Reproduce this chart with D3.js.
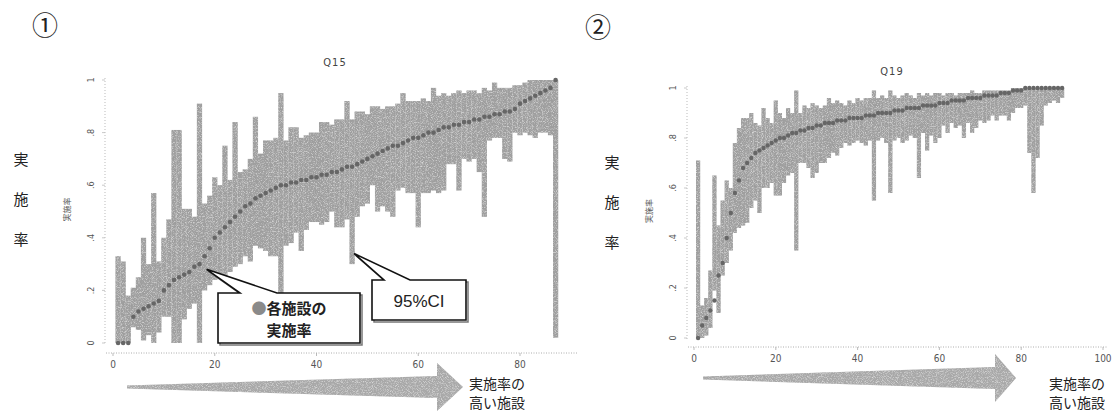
<!DOCTYPE html>
<html><head><meta charset="utf-8">
<script src="https://cdn.jsdelivr.net/npm/d3@7/dist/d3.min.js"></script>
<style>
html,body{margin:0;padding:0;background:#fff;}
svg{display:block;}
</style></head>
<body>
<svg id="chart" width="1114" height="413"></svg>
<script>
// ---------- DATA ----------
const panelMarks = ["①", "②"];
const panelTitles = ["Q15", "Q19"];
const yTicks = [0, 0.2, 0.4, 0.6, 0.8, 1];
const yTickLabels = ["0", ".2", ".4", ".6", ".8", "1"];
const xTicks15 = [0, 20, 40, 60, 80];
const xTicks19 = [0, 20, 40, 60, 80, 100];
const yTitleSmall = "実施率";
const yTitleBig = ["実", "施", "率"];
const xNote = ["実施率の", "高い施設"];
const callout1 = ["●各施設の", "実施率"];
const callout2 = "95%CI";

// Q15: 87 facilities sorted by rate
const q15Rate = [0,0,0,0.1,0.12,0.13,0.14,0.15,0.16,0.2,0.22,0.24,0.25,0.26,0.27,0.29,0.3,0.33,0.36,0.4,
0.42,0.44,0.46,0.48,0.5,0.52,0.53,0.55,0.56,0.57,0.58,0.59,0.6,0.6,0.61,0.61,0.62,0.62,0.63,0.63,
0.64,0.64,0.65,0.65,0.66,0.67,0.67,0.68,0.69,0.7,0.71,0.72,0.73,0.74,0.75,0.75,0.76,0.77,0.78,0.78,
0.79,0.8,0.8,0.81,0.82,0.82,0.83,0.83,0.84,0.84,0.85,0.85,0.86,0.86,0.87,0.87,0.88,0.88,0.89,0.91,
0.92,0.93,0.94,0.95,0.96,0.97,1.0];
const q15Lower = [0,0,0,0.06,0.05,0.01,0.03,0,0.04,0.1,0.1,0,0,0.09,0.13,0.15,0,0.2,0.22,0.24,
0.25,0.24,0.27,0.29,0.3,0.33,0.31,0.37,0.36,0.35,0.33,0.33,0.15,0.37,0.38,0.42,0.35,0.43,0.46,0.46,
0.45,0.46,0.5,0.44,0.44,0.47,0.3,0.48,0.52,0.53,0.6,0.5,0.52,0.5,0.48,0.58,0.59,0.57,0.57,0.44,
0.57,0.57,0.58,0.57,0.58,0.68,0.68,0.58,0.7,0.69,0.7,0.65,0.48,0.77,0.78,0.78,0.7,0.69,0.8,0.79,
0.8,0.79,0.78,0.8,0.8,0.79,0.02];
const q15Upper = [0.33,0.31,0.18,0.21,0.25,0.4,0.3,0.57,0.31,0.4,0.47,0.81,0.81,0.51,0.51,0.48,0.91,0.53,0.56,0.63,
0.6,0.75,0.62,0.84,0.65,0.66,0.7,0.86,0.72,0.77,0.77,0.78,0.95,0.77,0.82,0.82,0.78,0.79,0.8,0.8,
0.84,0.84,0.83,0.85,0.85,0.92,0.85,0.88,0.88,0.87,0.9,0.9,0.89,0.9,0.9,0.91,0.95,0.92,0.92,0.92,
0.93,0.92,0.97,0.94,0.95,0.94,0.95,0.96,0.95,0.96,0.96,0.95,0.97,0.96,0.99,0.97,0.97,0.97,0.98,0.98,
0.99,1.0,1.0,1.0,1.0,1.0,1.0];

// Q19: 90 facilities sorted by rate
const q19Rate = [0,0.05,0.08,0.11,0.15,0.25,0.3,0.4,0.5,0.58,0.63,0.68,0.7,0.72,0.74,0.75,0.76,0.77,0.78,0.79,
0.8,0.8,0.81,0.82,0.82,0.83,0.83,0.84,0.84,0.85,0.85,0.86,0.86,0.86,0.87,0.87,0.87,0.88,0.88,0.88,
0.88,0.89,0.89,0.89,0.9,0.9,0.9,0.9,0.91,0.91,0.91,0.92,0.92,0.92,0.92,0.93,0.93,0.93,0.93,0.94,
0.94,0.94,0.95,0.95,0.95,0.95,0.96,0.96,0.96,0.96,0.97,0.97,0.97,0.97,0.98,0.98,0.98,0.99,0.99,0.99,
1,1,1,1,1,1,1,1,1,1];
const q19Lower = [0,0,0.01,0.04,0.19,0.1,0.25,0.3,0.35,0.42,0.44,0.45,0.46,0.52,0.55,0.5,0.6,0.6,0.62,0.57,
0.57,0.62,0.65,0.66,0.35,0.7,0.7,0.68,0.64,0.66,0.7,0.7,0.72,0.74,0.73,0.76,0.78,0.77,0.78,0.79,
0.78,0.77,0.79,0.55,0.79,0.8,0.78,0.58,0.79,0.8,0.78,0.79,0.81,0.8,0.64,0.82,0.75,0.81,0.78,0.8,
0.85,0.82,0.86,0.84,0.85,0.8,0.86,0.82,0.84,0.87,0.86,0.87,0.89,0.87,0.89,0.89,0.87,0.9,0.92,0.92,
0.93,0.74,0.58,0.72,0.85,0.93,0.94,0.95,0.94,0.96];
const q19Upper = [0.71,0.13,0.16,0.27,0.65,0.45,0.55,0.63,0.6,0.78,0.84,0.88,0.88,0.9,0.86,0.85,0.92,0.88,0.86,0.95,
0.9,0.88,0.92,0.9,0.99,0.9,0.93,0.92,0.94,0.93,0.92,0.93,0.96,0.94,0.95,0.94,0.93,0.95,0.94,0.96,
0.95,0.96,0.96,0.99,0.96,0.97,0.96,0.99,0.97,0.96,0.97,0.98,0.97,0.96,0.98,0.97,0.98,0.97,0.98,0.98,
0.97,0.98,0.98,0.97,0.98,0.98,0.98,0.99,0.98,0.98,0.99,0.99,0.99,0.99,0.99,0.99,0.99,1,1,1,
1,1,1,1,1,1,1,1,1,1];

// ---------- DRAW ----------
const svg = d3.select("#chart");
const JP = "'Noto Sans CJK JP', 'Noto Sans', sans-serif";
const NUM = "'Liberation Sans Narrow', 'DejaVu Sans Condensed', 'Liberation Sans', sans-serif";

// subtle grain filter for the scanned look
const defs = svg.append("defs");
const f = defs.append("filter").attr("id","grain").attr("x","0").attr("y","0").attr("width","1").attr("height","1");
f.append("feTurbulence").attr("type","fractalNoise").attr("baseFrequency","1.2").attr("numOctaves","1").attr("seed","7").attr("result","n");
f.append("feColorMatrix").attr("in","n").attr("type","matrix")
 .attr("values","0 0 0 0 0.4  0 0 0 0 0.4  0 0 0 0 0.4  2.2 0 0 0 -1.0").attr("result","dark");
f.append("feColorMatrix").attr("in","n").attr("type","matrix")
 .attr("values","0 0 0 0 0.78  0 0 0 0 0.78  0 0 0 0 0.78  -2.2 0 0 0 1.2").attr("result","light");
f.append("feComposite").attr("in","dark").attr("in2","SourceGraphic").attr("operator","in").attr("result","d2");
f.append("feComposite").attr("in","light").attr("in2","SourceGraphic").attr("operator","in").attr("result","l2");
f.append("feMerge").selectAll("feMergeNode").data(["SourceGraphic","d2","l2"]).join("feMergeNode").attr("in",d=>d);

function panel(cfg){
  const g = svg.append("g");
  const x = d3.scaleLinear().domain(cfg.xDomain).range(cfg.xRange);
  const y = d3.scaleLinear().domain([0,1]).range(cfg.yRange);
  const n = cfg.rate.length;
  const idx = d3.range(1, n+1);
  const bw = (x(1)-x(0))*1.02;

  // dotted axes
  g.append("line").attr("x1",cfg.yAxisX).attr("x2",cfg.yAxisX).attr("y1",y(1)-2).attr("y2",y(0)+2)
    .attr("stroke","#aaa").attr("stroke-width",0.8).attr("stroke-dasharray","1,2");
  g.append("line").attr("x1",cfg.xAxisFrom).attr("x2",cfg.xAxisTo).attr("y1",cfg.xAxisY).attr("y2",cfg.xAxisY)
    .attr("stroke","#999").attr("stroke-width",0.8).attr("stroke-dasharray","1,1.5");

  // y ticks
  const yt = g.append("g");
  yt.selectAll("line").data(yTicks).join("line")
    .attr("x1",cfg.yAxisX-3).attr("x2",cfg.yAxisX).attr("y1",d=>y(d)).attr("y2",d=>y(d))
    .attr("stroke","#bbb").attr("stroke-width",0.8);
  yt.selectAll("text").data(yTicks).join("text")
    .attr("transform",d=>`translate(${cfg.yAxisX-14},${y(d)}) rotate(-90)`)
    .attr("text-anchor","middle").attr("dy","0.35em")
    .attr("font-family",NUM).attr("font-size",9).attr("fill","#555")
    .text((d,i)=>yTickLabels[i]);

  // x ticks
  const xt = g.append("g");
  xt.selectAll("line").data(cfg.xTicks).join("line")
    .attr("x1",d=>x(d)).attr("x2",d=>x(d)).attr("y1",cfg.xAxisY).attr("y2",cfg.xAxisY+3)
    .attr("stroke","#aaa").attr("stroke-width",0.8);
  xt.selectAll("text").data(cfg.xTicks).join("text")
    .attr("x",d=>x(d)).attr("y",cfg.xAxisY+15).attr("text-anchor","middle")
    .attr("font-family",NUM).attr("font-size",10).attr("fill","#555")
    .text(d=>d);

  // CI bars
  g.append("g").attr("filter","url(#grain)").selectAll("rect").data(idx).join("rect")
    .attr("x",i=>x(i)-bw/2).attr("width",bw)
    .attr("y",i=>y(cfg.upper[i-1])).attr("height",i=>Math.max(1,y(cfg.lower[i-1])-y(cfg.upper[i-1])))
    .attr("fill","#9a9a9a");
  // points
  g.append("g").selectAll("circle").data(idx).join("circle")
    .attr("cx",i=>x(i)).attr("cy",i=>y(cfg.rate[i-1])).attr("r",cfg.r)
    .attr("fill","#666");

  // title
  g.append("text").attr("x",cfg.titleX).attr("y",cfg.titleY).attr("text-anchor","middle")
    .attr("font-family",NUM).attr("font-size",11).attr("fill","#444").attr("letter-spacing",1)
    .text(cfg.title);
  // small rotated y title
  g.append("text").attr("transform",`translate(${cfg.yAxisX-35},${(y(0)+y(1))/2-2}) rotate(-90)`)
    .attr("text-anchor","middle").attr("font-family",JP).attr("font-size",8).attr("fill","#555")
    .text(yTitleSmall);
  // big vertical y title
  g.append("g").selectAll("text").data(yTitleBig).join("text")
    .attr("x",cfg.bigX).attr("y",(d,i)=>cfg.bigY + i*40).attr("text-anchor","middle")
    .attr("font-family",JP).attr("font-size",15).attr("fill","#222").text(d=>d);
  // panel number
  g.append("text").attr("x",cfg.markX).attr("y",cfg.markY).attr("text-anchor","middle")
    .attr("font-family",JP).attr("font-size",26).attr("fill","#222").text(cfg.mark);

  // arrow (tapered)
  const a = cfg.arrow;
  g.append("path").attr("filter","url(#grain)")
    .attr("d",`M${a.x0},${a.cy-1.5} L${a.xh},${a.cy-11} L${a.xh},${a.cy-24} L${a.xt},${a.cy} L${a.xh},${a.cy+24} L${a.xh},${a.cy+11} L${a.x0},${a.cy+1.5} Z`)
    .attr("fill","#a8a8a8");
  // x note
  g.append("g").selectAll("text").data(xNote).join("text")
    .attr("x",cfg.noteX).attr("y",(d,i)=>cfg.noteY + i*19).attr("text-anchor","middle")
    .attr("font-family",JP).attr("font-size",14).attr("fill","#222").text(d=>d);
  return {x,y};
}

const L = panel({
  mark: panelMarks[0], markX: 45, markY: 35,
  title: panelTitles[0], titleX: 335, titleY: 66,
  rate: q15Rate, lower: q15Lower, upper: q15Upper, r: 2.3,
  xDomain:[0,80], xRange:[113,520], yRange:[343,80], xTicks: xTicks15,
  yAxisX: 105, xAxisY: 353, xAxisFrom: 106, xAxisTo: 578,
  bigX: 21, bigY: 165,
  arrow: {x0:127, xh:437, xt:463, cy:387},
  noteX: 497, noteY: 389
});
const R = panel({
  mark: panelMarks[1], markX: 598, markY: 37,
  title: panelTitles[1], titleX: 892, titleY: 75,
  rate: q19Rate, lower: q19Lower, upper: q19Upper, r: 2.2,
  xDomain:[0,100], xRange:[694,1103], yRange:[338,88], xTicks: xTicks19,
  yAxisX: 687, xAxisY: 347, xAxisFrom: 688, xAxisTo: 1108,
  bigX: 612, bigY: 168,
  arrow: {x0:703, xh:995, xt:1016, cy:378},
  noteX: 1077, noteY: 389
});

// callouts (left panel)
function callout(box, base, tip){
  const [x0,y0,x1,y1] = box;
  const p = `M${x0},${y0} L${base[0]},${y0} L${tip[0]},${tip[1]} L${base[1]},${y0} L${x1},${y0} L${x1},${y1} L${x0},${y1} Z`;
  svg.append("path").attr("d",p).attr("transform","translate(2,2)").attr("fill","none").attr("stroke","#777").attr("stroke-width",1.5);
  svg.append("path").attr("d",p).attr("fill","#fff").attr("stroke","#111").attr("stroke-width",1.6);
}
const c1tip = [L.x(18.4), L.y(0.28)];
callout([218,293,360,343],[240,277],c1tip);
const c2tip = [L.x(47)+2, L.y(0.34)];
callout([372,280,466,320],[384,410],c2tip);

const t1 = svg.append("text").attr("x",289).attr("y",314).attr("text-anchor","middle")
  .attr("font-family",JP).attr("font-size",15).attr("font-weight","bold").attr("fill","#222");
t1.append("tspan").attr("fill","#8a8a8a").text(callout1[0].slice(0,1));
t1.append("tspan").text(callout1[0].slice(1));
svg.append("text").attr("x",289).attr("y",336).attr("text-anchor","middle")
  .attr("font-family",JP).attr("font-size",15).attr("font-weight","bold").attr("fill","#222").text(callout1[1]);
svg.append("text").attr("x",419).attr("y",307).attr("text-anchor","middle")
  .attr("font-family","'Liberation Sans', sans-serif").attr("font-size",17).attr("fill","#222").text(callout2);
</script>
</body></html>
